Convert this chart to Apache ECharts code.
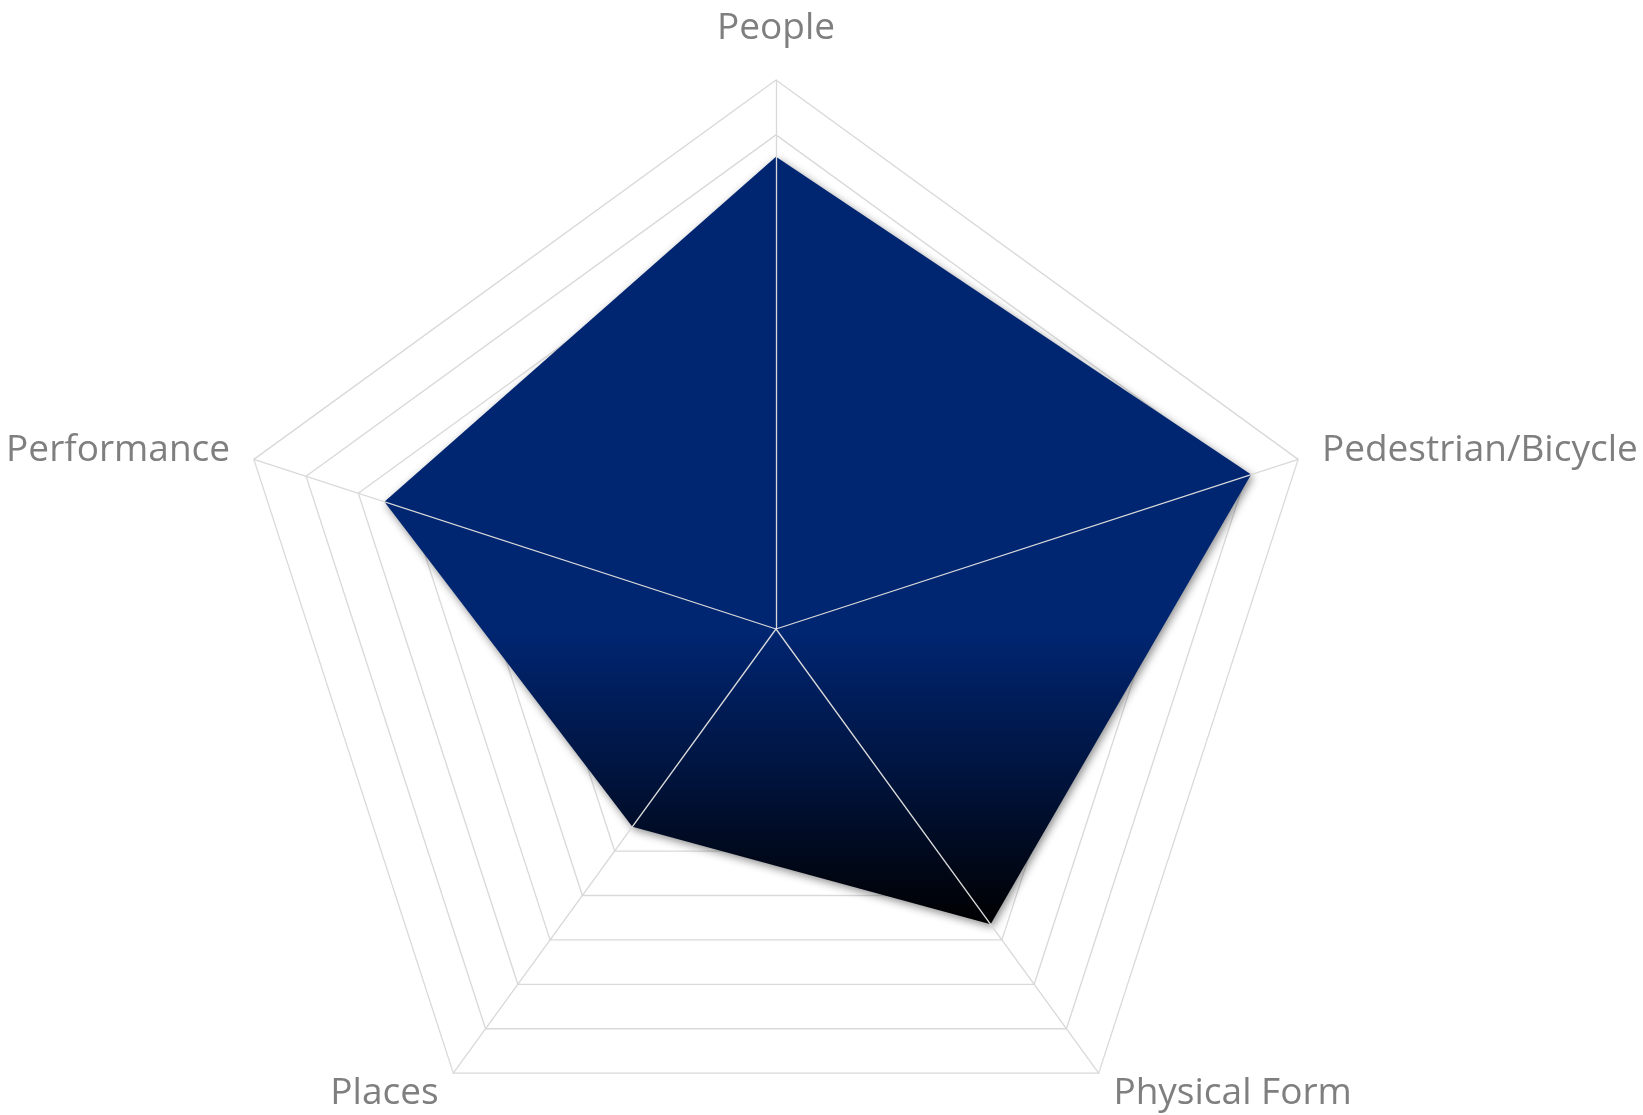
<!DOCTYPE html>
<html>
<head>
<meta charset="utf-8">
<script src="https://cdn.jsdelivr.net/npm/echarts@6/dist/echarts.min.js"></script>
<style>
  html, body { margin: 0; padding: 0; background: #fff; }
  #chart { width: 1643px; height: 1115px; }
</style>
</head>
<body>
<div id="chart"></div>
<script>
// indicator names in echarts order (counter-clockwise from the top)
const indicators = ['People', 'Performance', 'Places', 'Physical Form', 'Pedestrian/Bicycle']
const scores = [0.86, 0.75, 0.445, 0.665, 0.91]
const maxScore = 1

const labelKey = {
  'People': 'top',
  'Pedestrian/Bicycle': 'side',
  'Performance': 'side',
  'Physical Form': 'bottom',
  'Places': 'bottom',
}

const chart = echarts.init(document.getElementById('chart'))

const center = [776, 629]
const radius = 549
const gridColor = '#d9d9d9'
const labelFont = { color: '#7f7f7f', fontSize: 37, fontFamily: 'Open Sans', lineHeight: 42 }

chart.setOption({
  backgroundColor: '#ffffff',
  animation: false,
  radar: [
    {
      // grid rings + names, under the filled area
      center,
      radius,
      startAngle: 90,
      shape: 'polygon',
      splitNumber: 10,
      indicator: indicators.map((name) => ({ name, min: 0, max: maxScore })),
      nameGap: 25,
      axisName: {
        formatter: (name) => '{' + labelKey[name] + '|' + name + '}',
        rich: {
          top: Object.assign({}, labelFont, { padding: [0, 0, 11, 0] }),
          side: Object.assign({}, labelFont, { padding: [0, 0, 2, 0] }),
          bottom: Object.assign({}, labelFont, { padding: [0, 0, 0, 0] }),
        },
      },
      splitLine: { lineStyle: { color: gridColor, width: 1.3 } },
      splitArea: { show: false },
      axisLine: { show: false },
      axisTick: { show: false },
      axisLabel: { show: false },
      z: 0,
    },
    {
      // spokes, drawn on top of the fill
      center,
      radius,
      startAngle: 90,
      shape: 'polygon',
      splitNumber: 10,
      indicator: indicators.map((name) => ({ name, min: 0, max: maxScore })),
      axisName: { show: false },
      splitLine: { show: false },
      splitArea: { show: false },
      axisLine: { lineStyle: { color: gridColor, width: 1.3 } },
      axisTick: { show: false },
      axisLabel: { show: false },
      z: 3,
    },
  ],
  series: [
    {
      type: 'radar',
      radarIndex: 0,
      z: 2,
      symbol: 'none',
      lineStyle: { width: 0 },
      areaStyle: {
        opacity: 1,
        color: new echarts.graphic.LinearGradient(0, 0, 0, 1, [
          { offset: 0, color: '#002571' },
          { offset: 0.62, color: '#002571' },
          { offset: 0.8, color: '#00143f' },
          { offset: 1, color: '#000000' },
        ]),
        shadowBlur: 8,
        shadowColor: 'rgba(0,0,0,0.45)',
        shadowOffsetX: 2,
        shadowOffsetY: 3,
      },
      data: [{ value: scores, name: 'Score' }],
    },
  ],
})
</script>
</body>
</html>
